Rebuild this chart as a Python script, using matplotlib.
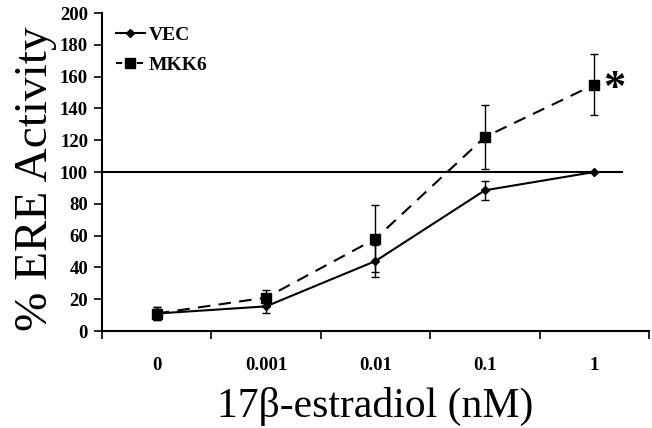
import matplotlib
matplotlib.use("Agg")
import matplotlib.pyplot as plt
from matplotlib.lines import Line2D
import numpy as np

categories = ["0", "0.001", "0.01", "0.1", "1"]
vec = [11, 15.5, 44, 88.5, 100]
vec_err = [4, 4, 10, 6, 0]
mkk6 = [11, 21, 58, 122, 155]
mkk6_err = [4, 5, 21, 20, 19]
yticks = [0, 20, 40, 60, 80, 100, 120, 140, 160, 180, 200]

serif = ["Liberation Serif", "DejaVu Serif"]
dash = (0, (6, 4))

fig = plt.figure(figsize=(6.52, 4.28), dpi=100)
ax = fig.add_axes([0.1564, 0.2266, 0.8390, 0.743])

x = np.arange(len(categories))
ax.errorbar(x, vec, yerr=vec_err, color="black", lw=1.5, marker="D", ms=4.5,
            capsize=3, elinewidth=1, capthick=1, zorder=3)
ax.errorbar(x, mkk6, yerr=mkk6_err, color="black", lw=1.5, ls=dash, marker="s", ms=6.5,
            capsize=3, elinewidth=1, capthick=1, zorder=3)

ax.plot([-0.5, 4.25], [100, 100], color="black", lw=1.5, zorder=2)

ax.text(4.18, 152.5, "*", fontsize=32, fontweight="bold", family=serif, va="center", ha="center")

ax.set_xlim(-0.5, 4.5)
ax.set_ylim(0, 200)
ax.set_xticks(np.arange(-0.5, 5, 1))
ax.set_xticklabels([])
ax.set_xticks(x, minor=True)
ax.set_xticklabels(categories, minor=True, fontsize=13.5, fontweight="bold", family=serif)
ax.tick_params(axis="x", which="minor", length=0, pad=19)
ax.tick_params(axis="x", which="major", length=6, width=1.2, direction="out")
ax.set_yticks(yticks)
ax.set_yticklabels([str(v) for v in yticks], fontsize=13.5, fontweight="bold", family=serif)
ax.tick_params(axis="y", length=6, width=1.2, direction="out", pad=4)

for s in ["top", "right"]:
    ax.spines[s].set_visible(False)
for s in ["left", "bottom"]:
    ax.spines[s].set_linewidth(1.5)

ax.set_xlabel("17β-estradiol (nM)", fontsize=30, family=serif, labelpad=9)
ax.set_ylabel("% ERE Activity", fontsize=34, family=serif, labelpad=2)
ax.yaxis.set_label_coords(-0.082, 0.48)

handles = [
    Line2D([], [], color="black", lw=1.5, marker="D", ms=4.5),
    Line2D([], [], color="black", lw=1.5, ls=(0, (3, 2)), marker="s", ms=6.5),
]
leg = ax.legend(handles, ["VEC", "MKK6"], loc="upper left", bbox_to_anchor=(0.0, 1.0), frameon=False,
                prop={"family": serif, "weight": "bold", "size": 14},
                handlelength=1.5, handletextpad=0.2, labelspacing=0.6, borderaxespad=0.4,
                borderpad=0.3)

fig.savefig("out.png", dpi=100)
